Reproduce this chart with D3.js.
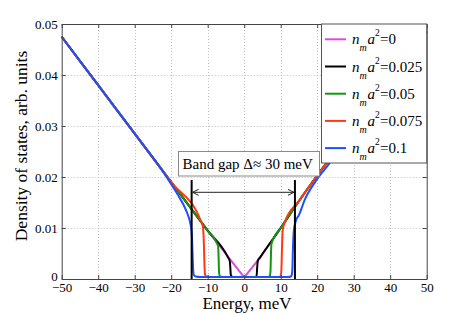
<!DOCTYPE html>
<html>
<head>
<meta charset="utf-8">
<script src="https://cdn.jsdelivr.net/npm/d3@7"></script>
<style>
  html, body { margin: 0; padding: 0; background: #fff; }
  svg { display: block; }
  text { font-family: "Liberation Serif", "Times New Roman", serif; }
</style>
</head>
<body>
<svg id="chart" width="471" height="314"></svg>
<script>
// ---------- data ----------
const xTicks = [-50, -40, -30, -20, -10, 0, 10, 20, 30, 40, 50];
const xTickLabels = ["\u221250", "\u221240", "\u221230", "\u221220", "\u221210", "0", "10", "20", "30", "40", "50"];
const yTicks = [0, 0.01, 0.02, 0.03, 0.04, 0.05];
const yTickLabels = ["0", "0.01", "0.02", "0.03", "0.04", "0.05"];

const legendValues = ["0", "0.025", "0.05", "0.075", "0.1"];
const seriesColors = ["#d94fd9", "#000000", "#14960f", "#ff3a12", "#1f4fff"];

// n_m a^2 = 0
const energy0 = [-50, -40, -30, -20, -10, 0, 5, 10, 15, 20, 25, 50];
const dos0    = [0.0475, 0.038, 0.0285, 0.019, 0.0095, 0.0003, 0.0048, 0.0100, 0.0153, 0.0203, 0.0250, 0.0485];
// n_m a^2 = 0.025
const energy1 = [-50, -40, -30, -20, -10, -4.4, -3.95, -3.8, -3.7, -3.5, -3, 0, 3, 3.3, 3.45, 3.55, 3.75, 4.3, 10, 15, 20, 25, 50];
const dos1    = [0.0475, 0.038, 0.0285, 0.019, 0.0095, 0.0042, 0.0035, 0.0022, 0.0010, 0.0005, 0.0004, 0.0004, 0.0004, 0.0005, 0.0010, 0.0022, 0.0036, 0.0042, 0.0100, 0.0153, 0.0203, 0.0250, 0.0485];
// n_m a^2 = 0.05
const energy2 = [-50, -40, -30, -20, -10, -7.6, -7.15, -7.0, -6.9, -6.7, -6, 0, 6.5, 7.0, 7.2, 7.3, 7.45, 8.0, 10, 15, 20, 25, 50];
const dos2    = [0.0475, 0.038, 0.0285, 0.019, 0.0095, 0.0072, 0.0064, 0.0040, 0.0015, 0.0006, 0.0004, 0.0004, 0.0004, 0.0006, 0.0015, 0.0040, 0.0068, 0.0079, 0.0100, 0.0153, 0.0203, 0.0250, 0.0485];
// n_m a^2 = 0.075
const energy3 = [-50, -40, -30, -20, -11.8, -11.3, -11.05, -10.9, -10.75, -10.4, -9, 0, 9.5, 10.0, 10.2, 10.35, 10.55, 11.2, 15, 20, 25, 50];
const dos3    = [0.0475, 0.038, 0.0285, 0.019, 0.0112, 0.0102, 0.0070, 0.0030, 0.0009, 0.0005, 0.0004, 0.0004, 0.0004, 0.0006, 0.0020, 0.0060, 0.0095, 0.0113, 0.0153, 0.0203, 0.0250, 0.0485];
// n_m a^2 = 0.1
const energy4 = [-50, -40, -30, -22, -20, -18, -16.6, -15.5, -14.8, -14.35, -14.15, -14.0, -13.8, -13.3, -12, 0, 12, 12.8, 13.05, 13.2, 13.35, 13.6, 14.2, 14.9, 16.7, 19.5, 23.6, 30, 50];
const dos4    = [0.0475, 0.038, 0.0285, 0.0208, 0.0186, 0.0163, 0.0145, 0.0127, 0.0110, 0.0088, 0.0050, 0.0020, 0.0008, 0.0005, 0.0004, 0.0004, 0.0004, 0.0005, 0.0009, 0.0020, 0.0060, 0.0095, 0.0115, 0.0124, 0.0157, 0.0191, 0.0229, 0.0296, 0.0485];

const seriesEnergy = [energy0, energy1, energy2, energy3, energy4];
const seriesDos = [dos0, dos1, dos2, dos3, dos4];

// band gap markers
const gapEdges = [-14.4, 13.9];
const gapLineTop = 0.0194;
const gapArrowLevel = 0.017;
const gapLabel = "Band gap \u0394\u2248 30 meV";

// ---------- chart ----------
(function draw() {
const svg = d3.select("#chart");
const pL = 61.7, pR = 426.7, pT = 24, pB = 279;
const serif = "'Liberation Serif', 'Times New Roman', serif";

const x = d3.scaleLinear().domain([-50, 50]).range([pL, pR]);
const y = d3.scaleLinear().domain([0, 0.05]).range([pB, pT]);

svg.append("rect").attr("x", 0).attr("y", 0).attr("width", 471).attr("height", 314).attr("fill", "#fff");

// grid
const grid = svg.append("g").attr("stroke", "#bdbdbd").attr("stroke-width", 1).attr("stroke-dasharray", "1,2");
grid.selectAll("line.gx").data(xTicks.slice(1, -1)).join("line")
  .attr("x1", d => Math.round(x(d)) + 0.5).attr("x2", d => Math.round(x(d)) + 0.5)
  .attr("y1", pT).attr("y2", pB);
grid.selectAll("line.gy").data(yTicks.slice(1, -1)).join("line")
  .attr("y1", d => Math.round(y(d)) + 0.5).attr("y2", d => Math.round(y(d)) + 0.5)
  .attr("x1", pL).attr("x2", pR);

// curves
seriesEnergy.forEach((es, i) => {
  const pts = es.map((e, j) => [e, seriesDos[i][j]]);
  const line = d3.line().x(d => x(d[0])).y(d => y(d[1]))
    .curve(i === 0 ? d3.curveLinear : d3.curveMonotoneX);
  svg.append("path")
    .attr("fill", "none")
    .attr("stroke", seriesColors[i])
    .attr("stroke-width", 2)
    .attr("stroke-linejoin", "round")
    .attr("d", line(pts));
});

// gap lines
svg.selectAll("line.gap").data(gapEdges).join("line")
  .attr("x1", d => x(d)).attr("x2", d => x(d))
  .attr("y1", y(0)).attr("y2", y(gapLineTop))
  .attr("stroke", "#000").attr("stroke-width", 2);

// double arrow
const ay = y(gapArrowLevel);
const ax1 = x(gapEdges[0]) + 1, ax2 = x(gapEdges[1]) - 1;
const arrowG = svg.append("g").attr("stroke", "#222").attr("stroke-width", 1).attr("fill", "none");
arrowG.append("line").attr("x1", ax1).attr("x2", ax2).attr("y1", ay).attr("y2", ay);
arrowG.append("path").attr("d", `M${ax1 + 6},${ay - 3} L${ax1},${ay} L${ax1 + 6},${ay + 3}`);
arrowG.append("path").attr("d", `M${ax2 - 6},${ay - 3} L${ax2},${ay} L${ax2 - 6},${ay + 3}`);

// band gap label box
svg.append("rect")
  .attr("x", 178.5).attr("y", 151.5).attr("width", 141).attr("height", 24.5)
  .attr("fill", "#fff").attr("stroke", "#8a8a8a").attr("stroke-width", 1);
svg.append("text").attr("x", 182.5).attr("y", 169).attr("font-size", 15).attr("fill", "#000").text(gapLabel);

// axes frame and ticks
const axisColor = "#444";
const gB = svg.append("g").attr("transform", `translate(0,${pB})`)
  .call(d3.axisBottom(x).tickValues(xTicks).tickSize(-4).tickSizeOuter(0).tickPadding(3.8)
    .tickFormat((d, i) => xTickLabels[i]));
const gL = svg.append("g").attr("transform", `translate(${pL},0)`)
  .call(d3.axisLeft(y).tickValues(yTicks).tickSize(-4).tickSizeOuter(0).tickPadding(4)
    .tickFormat((d, i) => yTickLabels[i]));
const gT = svg.append("g").attr("transform", `translate(0,${pT})`)
  .call(d3.axisTop(x).tickValues(xTicks).tickSize(-4).tickSizeOuter(0).tickFormat(""));
const gR = svg.append("g").attr("transform", `translate(${pR},0)`)
  .call(d3.axisRight(y).tickValues(yTicks).tickSize(-4).tickSizeOuter(0).tickFormat(""));
[gB, gL, gT, gR].forEach(g => {
  g.attr("font-family", serif);
  g.selectAll("path.domain").attr("stroke", axisColor);
  g.selectAll(".tick line").attr("stroke", axisColor);
  g.selectAll(".tick text").attr("fill", "#000").attr("font-size", 13);
});
// lift the zero label a little, as in the reference
gL.selectAll(".tick text").filter((d) => d === 0).attr("dy", "0.1em");

// axis labels
svg.append("text").attr("x", 247).attr("y", 309).attr("text-anchor", "middle")
  .attr("font-size", 17).text("Energy, meV");
svg.append("text").attr("transform", "translate(27,146) rotate(-90)").attr("text-anchor", "middle")
  .attr("font-size", 17.5).text("Density of states, arb. units");

// legend
const lg = svg.append("g");
lg.append("rect").attr("x", 321.5).attr("y", 24).attr("width", 105.2).attr("height", 139)
  .attr("fill", "#fff").attr("stroke", "#555").attr("stroke-width", 1);
legendValues.forEach((v, i) => {
  const ly = 39.3 + i * 27.2;
  lg.append("line").attr("x1", 325).attr("x2", 346).attr("y1", ly).attr("y2", ly)
    .attr("stroke", seriesColors[i]).attr("stroke-width", 2);
  const t = lg.append("text").attr("y", ly + 5).attr("font-size", 15);
  t.append("tspan").attr("x", 352).attr("font-style", "italic").text("n");
  t.append("tspan").attr("x", 359.5).attr("dy", 7).attr("font-size", 10).attr("font-style", "italic").text("m");
  t.append("tspan").attr("x", 367.5).attr("dy", -7).attr("font-style", "italic").text("a");
  t.append("tspan").attr("x", 375).attr("dy", -8).attr("font-size", 9.5).text("2");
  t.append("tspan").attr("x", 380).attr("dy", 8).text("=" + v);
});
})();
</script>
</body>
</html>
